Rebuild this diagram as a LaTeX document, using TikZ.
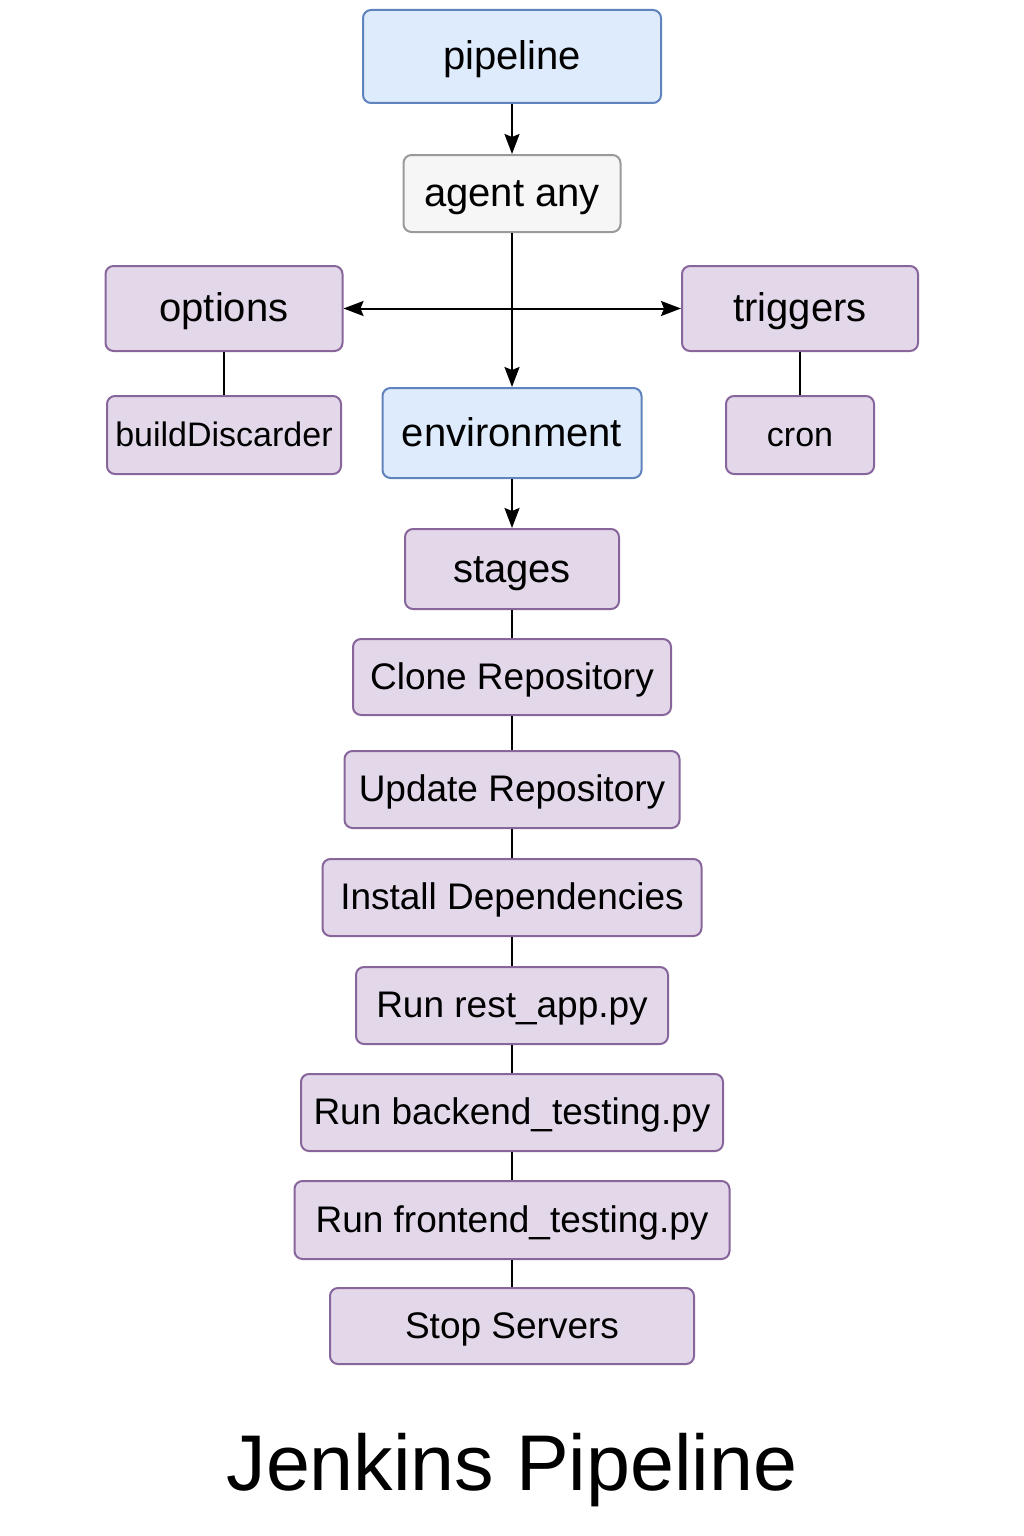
\documentclass[tikz,border=0pt]{standalone}
\usepackage{fontspec}
\setmainfont{Liberation Sans}
\usetikzlibrary{arrows.meta}
\definecolor{bluefill}{HTML}{DEEBFC}
\definecolor{bluedraw}{HTML}{5F83BC}
\definecolor{purplefill}{HTML}{E3D8E9}
\definecolor{purpledraw}{HTML}{88669C}
\definecolor{greyfill}{HTML}{F6F6F6}
\definecolor{greydraw}{HTML}{9A9A9A}
\begin{document}
\begin{tikzpicture}[x=1pt,y=-1pt,
    box/.style={rounded corners=8pt,line width=2pt,inner sep=0pt,
      minimum height=77pt,text height=29.5pt,text depth=5.5pt,
      font=\fontsize{37}{44}\selectfont},
    big/.style={text height=32pt,text depth=6pt,font=\fontsize{40}{48}\selectfont},
    small/.style={text height=27pt,text depth=5pt,font=\fontsize{34}{40}\selectfont},
    bluebox/.style={box,draw=bluedraw,fill=bluefill},
    purplebox/.style={box,draw=purpledraw,fill=purplefill},
    greybox/.style={box,draw=greydraw,fill=greyfill},
    >={Stealth[length=20pt,width=15pt,inset=3pt]},
    line width=2pt]
      \useasboundingbox (0,0) rectangle (1024,1536);
      \draw
        (512,56.5) node[bluebox,big,minimum width=298pt,minimum height=93pt] (pipeline){pipeline}
        (512,193.5) node[greybox,big,minimum width=217pt] (agent){agent any}
        (224,308.5) node[purplebox,big,minimum width=237pt,minimum height=85pt] (options){options}
        (800,308.5) node[purplebox,big,minimum width=236pt,minimum height=85pt] (triggers){triggers}
        (224,435) node[purplebox,small,minimum width=234pt,minimum height=78pt] (discarder){buildDiscarder}
        (512,433) node[bluebox,big,minimum width=259pt,minimum height=90pt] (environment){environment}
        (800,435) node[purplebox,small,minimum width=148pt,minimum height=78pt] (cron){cron}
        (512,569) node[purplebox,big,minimum width=214pt,minimum height=80pt] (stages){stages}
        (512,677) node[purplebox,minimum width=318pt,minimum height=76pt] (clone){Clone Repository}
        (512,789.5) node[purplebox,minimum width=335pt] (update){Update Repository}
        (512,897.5) node[purplebox,minimum width=379pt] (install){Install Dependencies}
        (512,1005.5) node[purplebox,minimum width=312pt] (restapp){Run rest\_app.py}
        (512,1112.5) node[purplebox,minimum width=422pt] (backend){Run backend\_testing.py}
        (512,1220) node[purplebox,minimum width=435pt,minimum height=78pt] (frontend){Run frontend\_testing.py}
        (512,1326) node[purplebox,minimum width=364pt,minimum height=76pt] (stop){Stop Servers}
        (512,1490) node[anchor=base,font=\fontsize{79}{90}\selectfont] (title){Jenkins Pipeline};
      \begin{scope}[->]
        \draw (pipeline) to (agent);
        \draw (agent) to (environment);
        \draw (environment) to (stages);
      \end{scope}
      \begin{scope}[<->]
        \draw (options) to (triggers);
      \end{scope}
      \begin{scope}[-]
        \draw (options) to (discarder);
        \draw (triggers) to (cron);
        \draw (stages) to (clone);
        \draw (clone) to (update);
        \draw (update) to (install);
        \draw (install) to (restapp);
        \draw (restapp) to (backend);
        \draw (backend) to (frontend);
        \draw (frontend) to (stop);
      \end{scope}
    \end{tikzpicture}
\end{document}
